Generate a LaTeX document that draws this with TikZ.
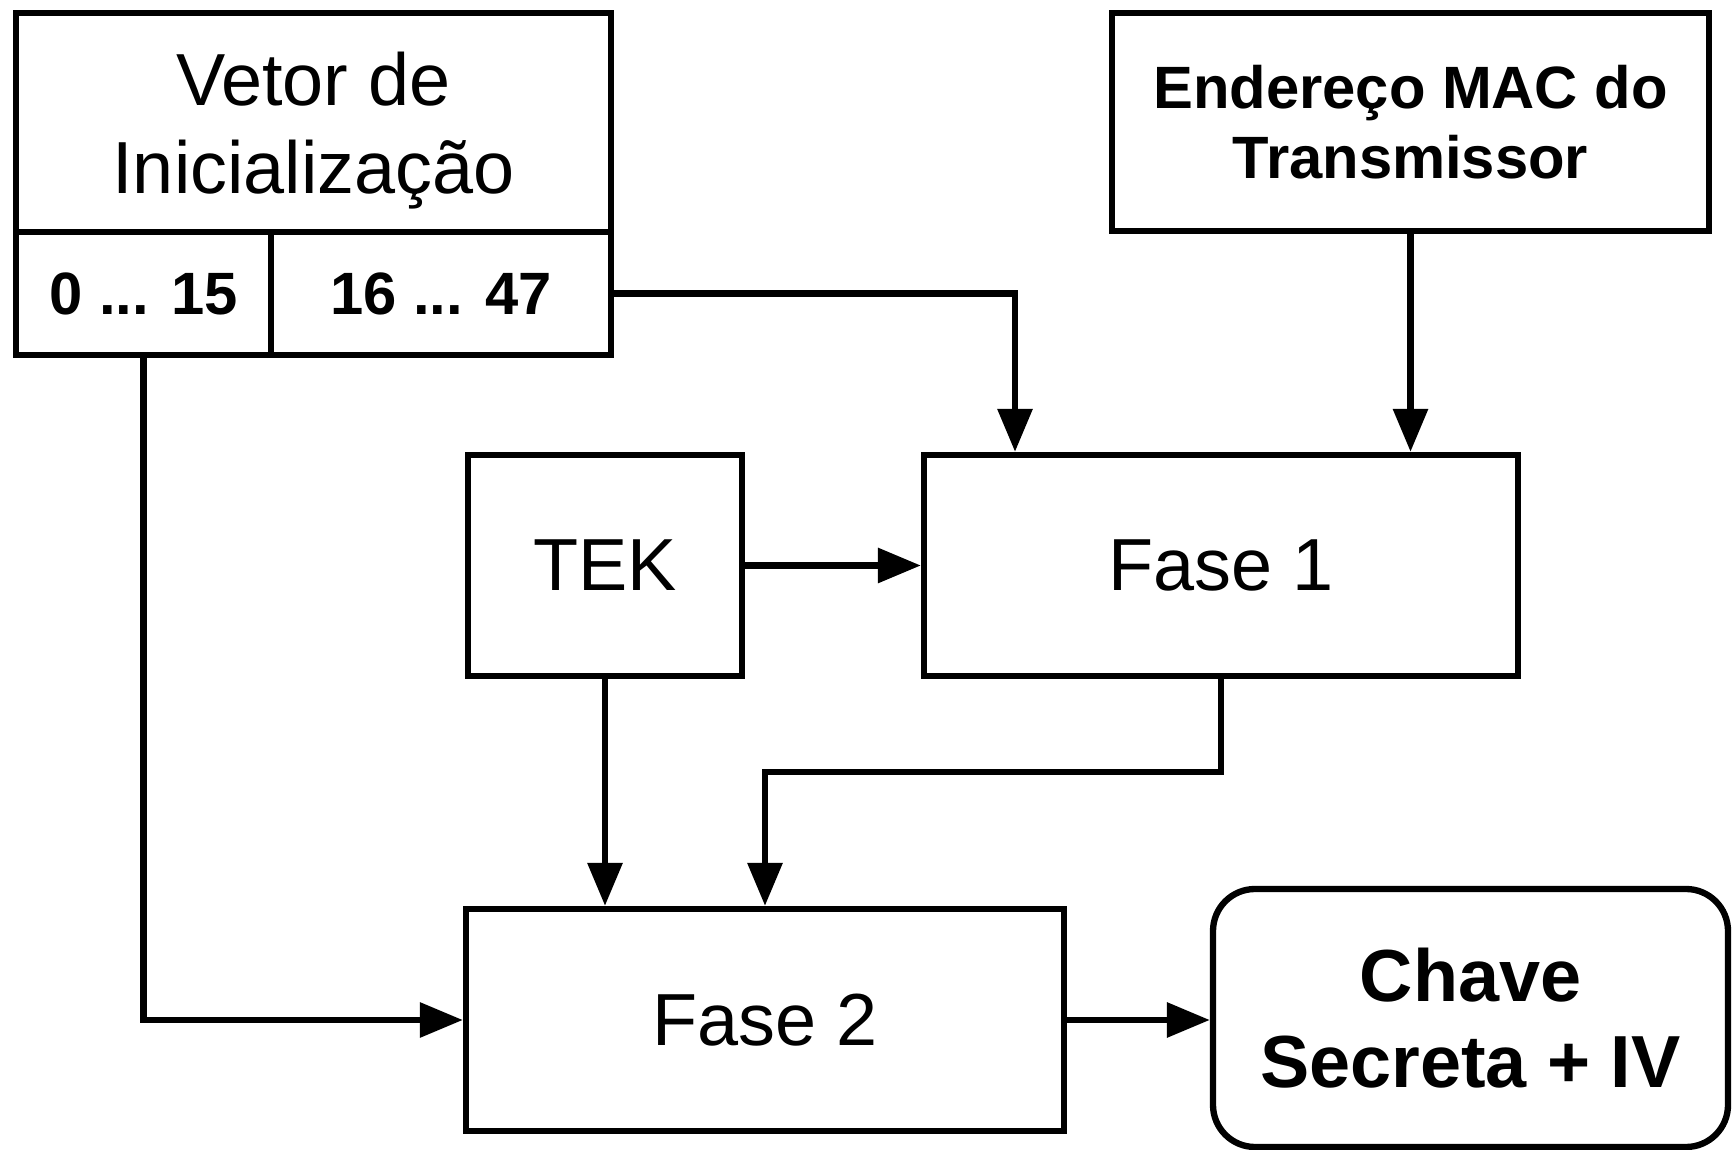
\documentclass[tikz,border=0pt]{standalone}
\usepackage{fontspec}
\setmainfont{Liberation Sans}
\usepackage{tikz}
\usetikzlibrary{arrows.meta, positioning, calc}
\tikzset{
  mix box/.style={
    rectangle, draw=black, line width=1.8pt, fill=white,
    align=center, inner sep=2pt,
    font=\fontsize{21}{25}\selectfont
  },
  mix field/.style={
    mix box, font=\fontsize{17}{20}\selectfont\bfseries
  },
  mix out/.style={
    mix box, rounded corners=0.42cm,
    font=\fontsize{21}{24.5}\selectfont\bfseries
  },
  mix text/.style={
    align=center, inner sep=0pt, font=\fontsize{21}{25}\selectfont
  },
  mix arrow/.style={
    -{Triangle[length=4.3mm, width=3.4mm]}, line width=1.8pt, draw=black
  }
}

\begin{document}
\begin{tikzpicture}
\useasboundingbox (0,0) rectangle (17.32,-11.5);

% ====== inputs ======
\node[mix box, minimum width=5.95cm, minimum height=2.19cm] (iv) at (3.135,-1.225) {};
\node[mix text] (ivtxt) at ([yshift=-0.08cm]iv.center) {Vetor de\\Inicialização};
\node[mix field, minimum width=2.55cm, minimum height=1.23cm] (ivlo) at (1.435,-2.935) {0 ... 15};
\node[mix field, minimum width=3.40cm, minimum height=1.23cm] (ivhi) at (4.41,-2.935) {16 ... 47};
\node[mix box, minimum width=5.97cm, minimum height=2.18cm,
  font=\fontsize{17}{20}\selectfont\bfseries] (mac) at (14.105,-1.22)
  {Endereço MAC do\\Transmissor};

% ====== key mixing ======
\node[mix box, minimum width=2.74cm, minimum height=2.21cm] (tek) at (6.05,-5.655) {TEK};
\node[mix box, minimum width=5.94cm, minimum height=2.21cm] (fase1) at (12.21,-5.655) {Fase 1};
\node[mix box, minimum width=5.98cm, minimum height=2.22cm] (fase2) at (7.65,-10.2) {Fase 2};
\node[mix out, minimum width=5.15cm, minimum height=2.58cm] (key) at (14.705,-10.18)
  {Chave\\Secreta + IV};

% ====== connectors ======
\draw[mix arrow] (ivhi.east) -| ([xshift=-2.06cm]fase1.north);
\draw[mix arrow] (mac.south) -- (mac.south |- fase1.north);
\draw[mix arrow] (tek.east) -- (fase1.west);
\draw[mix arrow] (tek.south) -- (tek.south |- fase2.north);
\draw[mix arrow] (fase1.south) -- ++(0,-0.93) -| (fase2.north);
\draw[mix arrow] (ivlo.south) |- (fase2.west);
\draw[mix arrow] (fase2.east) -- (fase2.east -| key.west);

\end{tikzpicture}
\end{document}
